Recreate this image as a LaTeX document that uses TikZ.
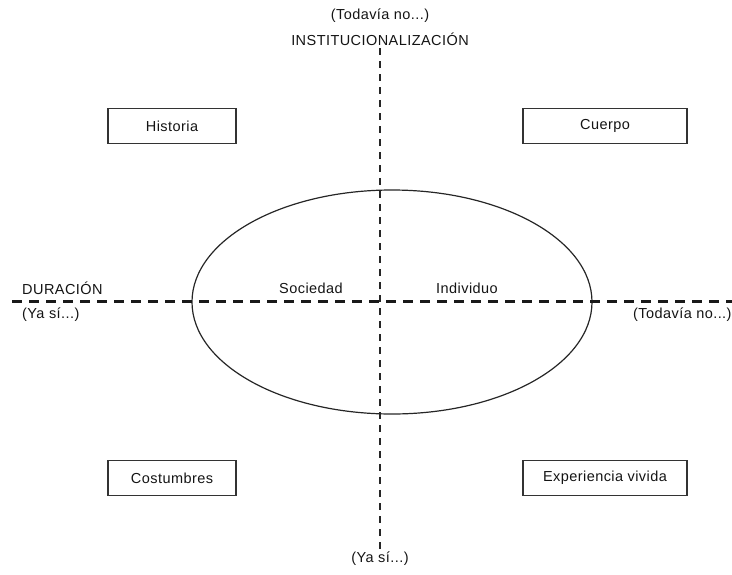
\documentclass[tikz,border=0pt]{standalone}
\usepackage{fontspec}
\setmainfont{Liberation Sans}[LetterSpace=3]
\begin{document}
\begin{tikzpicture}[x=1pt,y=-1pt,
  every node/.style={font=\fontsize{14.5}{16}\selectfont, text=black!92, inner sep=0pt},
  label/.style={},
  conceptbox/.style={draw=black!80, line width=1.3pt, minimum width=164pt, minimum height=35pt, inner sep=0pt},
  vaxis/.style={draw=black!85, line width=1.3pt, dash pattern=on 7pt off 6pt},
  haxis/.style={draw=black!90, line width=3pt, dash pattern=on 10pt off 7pt},
  orbit/.style={draw=black!85, line width=1.2pt}]
  \useasboundingbox (0,0) rectangle (732,574);
  \clip (0,0) rectangle (732,574);

  % axes
  \coordinate (vtop) at (380,48);
  \coordinate (vbot) at (380,550);
  \coordinate (hleft) at (12,301);
  \coordinate (hright) at (740,301);
  \draw[orbit] (392,302) ellipse [x radius=200, y radius=112];
  \draw[vaxis] (vtop) -- (vbot);
  \draw[haxis] (hleft) -- (hright);

  % axis labels
  \node[label] (tnote) at (380,16) {(Todavía no...)};
  \node[label] (inst) at (380,39) {INSTITUCIONALIZACIÓN};
  \node[label, anchor=west] (dur) at (22,288) {DURACIÓN};
  \node[label, anchor=west] (ysl) at (22,315) {(Ya sí...)};
  \node[label, anchor=west] (tnr) at (633,315) {(Todavía no...)};
  \node[label] (ysb) at (380,559) {(Ya sí...)};

  % inside the ellipse
  \node[label] (soc) at (311,288) {Sociedad};
  \node[label] (ind) at (467,288) {Individuo};

  % quadrant boxes
  \node[conceptbox, minimum width=128pt] (hist) at (172,126) {Historia};
  \node[conceptbox] (cuer) at (605,126) {Cuerpo};
  \node[conceptbox, minimum width=128pt] (cost) at (172,478) {Costumbres};
  \node[conceptbox] (expv) at (605,478) {Experiencia vivida};
\end{tikzpicture}
\end{document}
